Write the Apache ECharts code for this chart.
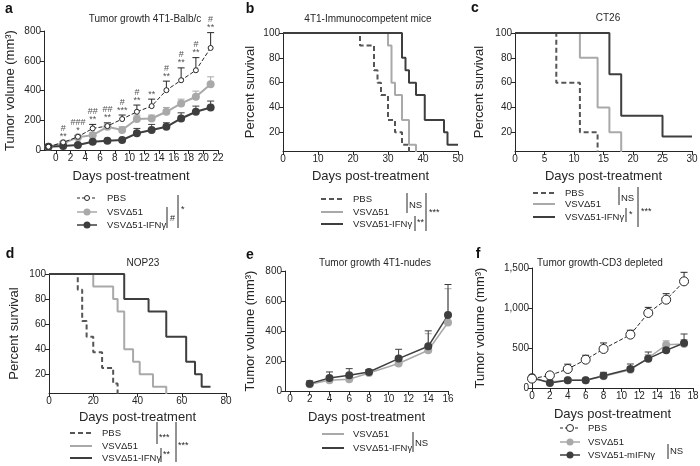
<!DOCTYPE html>
<html><head><meta charset="utf-8">
<script src="https://cdn.jsdelivr.net/npm/echarts@6/dist/echarts.min.js"></script>
<style>html,body{margin:0;padding:0;background:#fff}#c{width:700px;height:466px}</style>
</head><body><div id="c"></div>
<script>
// ---------- Panel a: Tumor growth 4T1-Balb/c ----------
const aDays = [-1, 1, 3, 5, 7, 9, 11, 13, 15, 17, 19, 21];
const aPBS = [22, 51, 89, 145, 161, 208, 257, 295, 402, 469, 536, 686];
const aPBSErr = [5, 6, 8, 27, 22, 27, 45, 47, 61, 83, 85, 103];
const aVSV = [22, 45, 85, 100, 156, 134, 208, 212, 257, 313, 358, 442];
const aVSVErr = [5, 5, 6, 16, 23, 22, 27, 23, 29, 29, 38, 50];
const aIFN = [22, 27, 34, 56, 63, 67, 112, 134, 156, 212, 257, 286];
const aIFNErr = [4, 4, 5, 6, 6, 6, 33, 38, 27, 38, 38, 43];
const aAnnot = ['', '#\n**', '###\n*', '##\n**', '##\n**', '#\n***', '#\n**', '**', '#\n**', '#\n**', '#\n**', '#\n**'];
const aXTicks = [0, 2, 4, 6, 8, 10, 12, 14, 16, 18, 20, 22];

// ---------- Panel b: 4T1-Immunocompetent mice (Kaplan-Meier) ----------
const bPBSt = [0, 22, 26, 27, 28, 30, 32, 34, 36];
const bPBSs = [100, 90, 70, 60, 50, 30, 20, 10, 0];
const bVSVt = [0, 30, 31, 32, 34, 36, 38];
const bVSVs = [100, 90, 60, 50, 30, 10, 0];
const bIFNt = [0, 34, 35, 36, 38, 40.5, 46, 47, 50];
const bIFNs = [100, 80, 70, 60, 50, 30, 20, 10, 10];

// ---------- Panel c: CT26 ----------
const cPBSt = [0, 7, 11, 14];
const cPBSs = [100, 60, 20, 0];
const cVSVt = [0, 11, 14, 16, 18];
const cVSVs = [100, 80, 40, 20, 0];
const cIFNt = [0, 16, 18, 25, 30];
const cIFNs = [100, 66.7, 33.3, 16.7, 16.7];

// ---------- Panel d: NOP23 ----------
const dPBSt = [0, 13, 15, 17, 20, 24, 29, 31];
const dPBSs = [100, 87.5, 62.5, 50, 37.5, 25, 12.5, 0];
const dVSVt = [0, 20, 29, 31, 34, 38, 41, 47, 53];
const dVSVs = [100, 90, 80, 70, 40, 30, 20, 10, 0];
const dIFNt = [0, 34, 45, 53, 62, 66, 69, 73];
const dIFNs = [100, 80, 70, 50, 30, 20, 10, 10];
const survTicks = [20, 40, 60, 80, 100];

// ---------- Panel e: Tumor growth 4T1-nudes ----------
const eDays = [2, 4, 6, 8, 11, 14, 16];
const eVSV = [45, 71, 78, 120, 183, 272, 457];
const eVSVErr = [8, 10, 12, 18, 25, 110, 225];
const eIFN = [49, 87, 105, 127, 216, 298, 506];
const eIFNErr = [18, 40, 44, 16, 62, 103, 204];
const eXTicks = [0, 2, 4, 6, 8, 10, 12, 14, 16];

// ---------- Panel f: Tumor growth-CD3 depleted ----------
const fDays = [0, 2, 4, 6, 8, 11, 13, 15, 17];
const fPBS = [117, 158, 238, 354, 488, 667, 938, 1104, 1333];
const fPBSErr = [15, 30, 60, 55, 75, 55, 70, 75, 113];
const fVSV = [117, 75, 96, 96, 146, 229, 375, 540, 550];
const fVSVErr = [10, 10, 15, 15, 35, 40, 42, 50, 55];
const fIFN = [133, 63, 96, 96, 154, 238, 367, 471, 563];
const fIFNErr = [10, 10, 10, 12, 42, 62, 83, 60, 112];

const namesA = ['PBS', 'VSVΔ51', 'VSVΔ51-IFNγ'];
const namesE = ['VSVΔ51', 'VSVΔ51-IFNγ'];
const namesF = ['PBS', 'VSVΔ51', 'VSVΔ51-mIFNγ'];
const titles = ['Tumor growth 4T1-Balb/c', '4T1-Immunocompetent mice', 'CT26', 'NOP23', 'Tumor growth 4T1-nudes', 'Tumor growth-CD3 depleted'];
const letters = ['a', 'b', 'c', 'd', 'e', 'f'];

// ---------- styling ----------
const FONT = 'Liberation Sans, Arial, sans-serif';
const INK = '#262626';
const GRAY = '#a9a9a9';
const DARK = '#3e3e3e';
const DASHC = '#555555';

const grids = [
  { left: 44, top: 31, width: 174, height: 119 },
  { left: 283, top: 33, width: 175, height: 118 },
  { left: 515, top: 33, width: 177, height: 118 },
  { left: 49, top: 274, width: 177, height: 119 },
  { left: 285, top: 271, width: 163, height: 120 },
  { left: 532, top: 268, width: 161, height: 120 }
].map(g => Object.assign({ outerBoundsMode: 'none', containLabel: false }, g));

function pts(xs, ys) { return xs.map((x, i) => [x, ys[i]]); }

const axLine = { show: true, onZero: false, lineStyle: { color: INK, width: 1 } };
function xAx(gi, min, max, interval, gap, custom) {
  const o = {
    gridIndex: gi, type: 'value', min, max,
    axisLine: axLine,
    axisTick: { show: true, length: 4, inside: false, lineStyle: { color: INK } },
    axisLabel: { fontSize: 10, color: INK, margin: 3, fontFamily: FONT },
    splitLine: { show: false },
    name: 'Days post-treatment', nameLocation: 'middle', nameGap: gap, nameMoveOverlap: false,
    nameTextStyle: { fontSize: 13, color: INK, fontFamily: FONT }
  };
  if (custom) { o.axisLabel.customValues = custom; o.axisTick.customValues = custom; }
  else o.interval = interval;
  return o;
}
function yAx(gi, min, max, interval, name, gap, custom, fmt) {
  const o = {
    gridIndex: gi, type: 'value', min, max,
    axisLine: axLine,
    axisTick: { show: true, length: 4, inside: false, lineStyle: { color: INK } },
    axisLabel: { fontSize: 10, color: INK, margin: 3, fontFamily: FONT },
    splitLine: { show: false },
    name, nameLocation: 'middle', nameGap: gap, nameRotate: 90, nameMoveOverlap: false,
    nameTextStyle: { fontSize: 13, color: INK, fontFamily: FONT }
  };
  if (fmt) o.axisLabel.formatter = fmt;
  if (custom) { o.axisLabel.customValues = custom; o.axisTick.customValues = custom; }
  else o.interval = interval;
  return o;
}

const xAxes = [
  xAx(0, -1.6, 22, null, 20, aXTicks),
  xAx(1, 0, 50, 10, 19),
  xAx(2, 0, 30, 5, 19),
  xAx(3, 0, 80, 20, 18),
  xAx(4, -0.5, 16, null, 20, eXTicks),
  xAx(5, 0, 18, 2, 20)
];
const yAxes = [
  yAx(0, 0, 800, 200, 'Tumor volume (mm³)', 27),
  yAx(1, 5, 100, null, 'Percent survival', 26, survTicks),
  yAx(2, 5, 100, null, 'Percent survival', 29, survTicks),
  yAx(3, 5, 100, null, 'Percent survival', 28, survTicks),
  yAx(4, 0, 800, 200, 'Tumor volume (mm³)', 28),
  yAx(5, 0, 1500, 500, 'Tumor volume (mm³)', 45, null, v => v.toLocaleString('en-US'))
];

function errSeries(gi, xs, ys, es, color) {
  return {
    type: 'custom', xAxisIndex: gi, yAxisIndex: gi, silent: true, z: 1, clip: false,
    data: xs.map((x, i) => [x, ys[i], es[i]]),
    renderItem: (p, api) => {
      const x = api.value(0), y = api.value(1), e = api.value(2);
      const p0 = api.coord([x, y]), p1 = api.coord([x, y + e]);
      const st = { stroke: color, lineWidth: 1 };
      return { type: 'group', children: [
        { type: 'line', shape: { x1: p0[0], y1: p0[1], x2: p1[0], y2: p1[1] }, style: st },
        { type: 'line', shape: { x1: p1[0] - 3.5, y1: p1[1], x2: p1[0] + 3.5, y2: p1[1] }, style: st }
      ] };
    }
  };
}
function growth(gi, xs, ys, color, opt) {
  opt = opt || {};
  return {
    type: 'line', xAxisIndex: gi, yAxisIndex: gi, data: pts(xs, ys), z: opt.z || 3,
    symbol: 'circle', symbolSize: opt.size || 8, clip: false,
    itemStyle: opt.open ? { color: '#fff', borderColor: color, borderWidth: 1 } : { color: color, borderWidth: 0 },
    lineStyle: { color: color, width: opt.width || 2, type: opt.dash ? [4, 2] : 'solid' },
    animation: false
  };
}
function km(gi, ts, ss, color, dash) {
  return {
    type: 'line', step: 'end', xAxisIndex: gi, yAxisIndex: gi, data: pts(ts, ss),
    symbol: 'none', lineStyle: { color: color, width: 2, type: dash ? [5, 3] : 'solid' }, animation: false
  };
}

const series = [
  errSeries(0, aDays, aPBS, aPBSErr, INK),
  errSeries(0, aDays, aVSV, aVSVErr, GRAY),
  errSeries(0, aDays, aIFN, aIFNErr, DARK),
  growth(0, aDays, aVSV, GRAY),
  growth(0, aDays, aIFN, DARK),
  growth(0, aDays, aPBS, INK, { open: true, size: 5, width: 1, dash: true, z: 4 }),
  {
    type: 'scatter', xAxisIndex: 0, yAxisIndex: 0, symbolSize: 0, silent: true, z: 5,
    data: aDays.map((d, i) => ({ value: [d, aPBS[i] + aPBSErr[i]], annot: aAnnot[i] })),
    label: { show: true, position: 'top', distance: 1, formatter: p => p.data.annot,
      fontSize: 9, lineHeight: 8, color: INK, fontFamily: FONT }
  },
  km(1, bPBSt, bPBSs, DASHC, true), km(1, bVSVt, bVSVs, GRAY), km(1, bIFNt, bIFNs, DARK),
  km(2, cPBSt, cPBSs, DASHC, true), km(2, cVSVt, cVSVs, GRAY), km(2, cIFNt, cIFNs, DARK),
  km(3, dPBSt, dPBSs, DASHC, true), km(3, dVSVt, dVSVs, GRAY), km(3, dIFNt, dIFNs, DARK),
  errSeries(4, eDays, eVSV, eVSVErr, GRAY),
  errSeries(4, eDays, eIFN, eIFNErr, DARK),
  growth(4, eDays, eVSV, GRAY, { width: 1.5 }),
  growth(4, eDays, eIFN, DARK, { width: 1.5 }),
  errSeries(5, fDays, fPBS, fPBSErr, INK),
  errSeries(5, fDays, fVSV, fVSVErr, GRAY),
  errSeries(5, fDays, fIFN, fIFNErr, DARK),
  growth(5, fDays, fVSV, GRAY, { width: 1.5 }),
  growth(5, fDays, fIFN, DARK, { width: 1.5 }),
  growth(5, fDays, fPBS, INK, { open: true, size: 9, width: 1, dash: true, z: 4 })
];

// ---------- titles ----------
const titlePos = [[140, 9], [363, 9], [603, 8], [138, 253], [370, 253], [595, 253]];
const title = titles.map((t, i) => ({
  text: t, left: titlePos[i][0], top: titlePos[i][1], textAlign: 'center',
  textStyle: { fontSize: 10, fontWeight: 'normal', color: INK, fontFamily: FONT }
}));

// ---------- graphic: letters, legends, significance brackets ----------
const G = [];
function gLine(x1, y1, x2, y2, stroke, w, dash) {
  G.push({ type: 'line', silent: true, shape: { x1, y1, x2, y2 }, style: { stroke, lineWidth: w, lineDash: dash || null } });
}
function gText(x, y, text, size, extra) {
  G.push({ type: 'text', silent: true, x, y, style: Object.assign({ text, fontSize: size, fill: INK, fontFamily: FONT,
    textAlign: 'left', textVerticalAlign: 'middle' }, extra || {}) });
}
function gCircle(cx, cy, r, fill, stroke) {
  G.push({ type: 'circle', silent: true, shape: { cx, cy, r }, style: { fill, stroke: stroke || null, lineWidth: 1 } });
}
const letterPos = [[9, 9], [250, 9], [475, 8], [10, 254], [250, 255], [478, 254]];
letters.forEach((l, i) => gText(letterPos[i][0], letterPos[i][1], l, 14, { fontWeight: 'bold', textAlign: 'center', fill: '#111' }));

const LF = 9.5;
function legendRow(x, y, kind, textX, text) {
  if (kind === 'openDot') { gLine(x, y, x + 20, y, INK, 1, [3, 2]); gCircle(x + 10, y, 2.5, '#fff', INK); }
  else if (kind === 'openBig') { gLine(x, y, x + 20, y, INK, 1, [3, 2]); gCircle(x + 10, y, 3.5, '#fff', INK); }
  else if (kind === 'grayDot') { gLine(x, y, x + 20, y, GRAY, 1.5); gCircle(x + 10, y, 3.5, GRAY); }
  else if (kind === 'darkDot') { gLine(x, y, x + 20, y, DARK, 1.5); gCircle(x + 10, y, 3.5, DARK); }
  else if (kind === 'dash') gLine(x, y, x + 22, y, DASHC, 2, [5, 3]);
  else if (kind === 'gray') gLine(x, y, x + 22, y, GRAY, 2);
  else if (kind === 'dark') gLine(x, y, x + 22, y, DARK, 2);
  gText(textX, y, text, LF);
}
// a
[198, 212, 225].forEach((y, i) => legendRow(77, y, ['openDot', 'grayDot', 'darkDot'][i], 107, namesA[i]));
gLine(167, 207, 167, 228, INK, 1); gText(170, 219, '#', 9);
gLine(178, 195, 178, 228, INK, 1); gText(181, 210, '*', 9);
// b
[199, 212, 224].forEach((y, i) => legendRow(321, y, ['dash', 'gray', 'dark'][i], 353, namesA[i]));
gLine(407, 193, 407, 213, INK, 1); gText(409, 205, 'NS', 9.5);
gLine(415, 216, 415, 231, INK, 1); gText(417, 223, '**', 9);
gLine(426, 193, 426, 231, INK, 1); gText(429, 213, '***', 9);
// c
[193, 204, 217].forEach((y, i) => legendRow(533, y, ['dash', 'gray', 'dark'][i], 565, namesA[i]));
gLine(619, 187, 619, 205, INK, 1); gText(621, 198, 'NS', 9.5);
gLine(626, 208, 626, 222, INK, 1); gText(629, 215, '*', 9);
gLine(638, 187, 638, 227, INK, 1); gText(641, 212, '***', 9);
// d
[433, 446, 458].forEach((y, i) => legendRow(70, y, ['dash', 'gray', 'dark'][i], 102, namesA[i]));
gLine(157, 422, 157, 444, INK, 1); gText(159, 438, '***', 9);
gLine(161, 448, 161, 462, INK, 1); gText(163, 455, '**', 9);
gLine(176, 422, 176, 462, INK, 1); gText(178, 446, '***', 9);
// e
[434, 448].forEach((y, i) => legendRow(322, y, ['gray', 'dark'][i], 353, namesE[i]));
gLine(413, 432, 413, 452, INK, 1); gText(415, 443, 'NS', 9.5);
// f
[428, 442, 455].forEach((y, i) => legendRow(560, y, ['openBig', 'grayDot', 'darkDot'][i], 588, namesF[i]));
gLine(668, 444, 668, 459, INK, 1); gText(670, 451, 'NS', 9.5);

const chart = echarts.init(document.getElementById('c'), null, { renderer: 'canvas' });
chart.setOption({
  backgroundColor: '#fff',
  animation: false,
  textStyle: { fontFamily: FONT },
  title, grid: grids, xAxis: xAxes, yAxis: yAxes, series, graphic: G
});
</script></body></html>
